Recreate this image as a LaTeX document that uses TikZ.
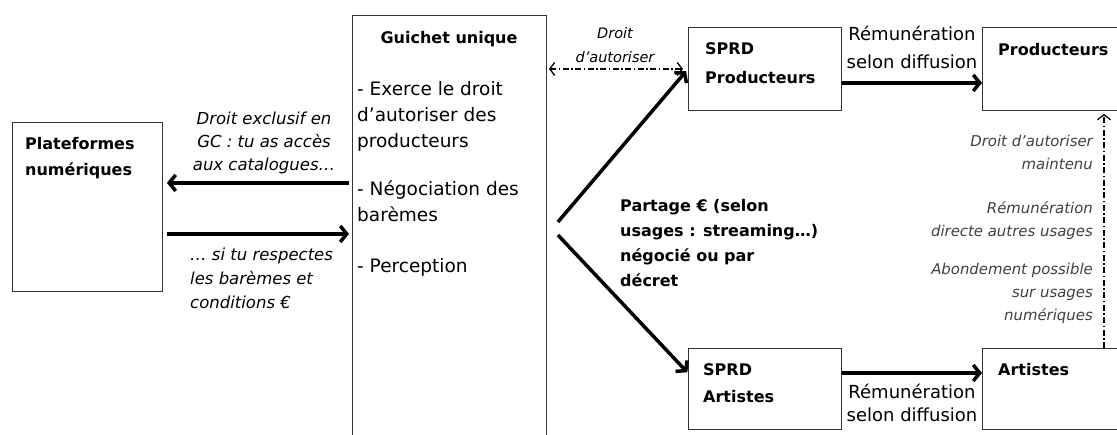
\documentclass[tikz,border=0pt]{standalone}
\usepackage{fontspec}
\setmainfont{DejaVu Sans}
\usetikzlibrary{arrows.meta, calc}

\tikzset{
	box/.style = {draw = black!80, line width = 0.9pt, anchor = north west, inner sep = 0pt},
	head/.style = {inner sep = 0pt, align = left, font = \fontsize{16}{27}\selectfont\bfseries},
	body/.style = {inner sep = 0pt, align = left, font = \fontsize{18.5}{26}\selectfont},
	note/.style = {inner sep = 0pt, font = \fontsize{16.5}{23}\selectfont\itshape},
	side/.style = {inner sep = 0pt, align = right, text = black!75, font = \fontsize{14.9}{23}\selectfont\itshape},
	fat/.style = {line width = 3.5pt, -{Straight Barb[length = 6.5pt, width = 16pt]}},
	dashdot/.style = {line width = 1.3pt, dash pattern = on 6pt off 2.5pt on 1.5pt off 2.5pt},
	barb/.tip = {Straight Barb[length = 5pt, width = 13pt]}
}

\begin{document}
\begin{tikzpicture}[x = 1pt, y = -1pt]
			\clip (0,0) rectangle (1117,434);

			% boxes
			\begin{scope}
				\node[box, minimum width = 150pt, minimum height = 169pt] (plat) at (12,122) {};
				\node[box, minimum width = 194pt, minimum height = 450pt] (guichet) at (352,15) {};
				\node[box, minimum width = 153pt, minimum height = 83pt] (sprdP) at (688,27) {};
				\node[box, minimum width = 150pt, minimum height = 83pt] (prod) at (982,27) {};
				\node[box, minimum width = 153pt, minimum height = 81pt] (sprdA) at (688,348) {};
				\node[box, minimum width = 150pt, minimum height = 81pt] (art) at (982,348) {};
			\end{scope}

			% texts in the boxes
			\node[head, anchor = north west, font = \fontsize{16}{26}\selectfont\bfseries] (platText) at (25,137) {Plateformes\\numériques};
			\node[head, anchor = north] (guichetTitle) at (449,31) {Guichet unique};
			\node[body, anchor = north west] (guichetText) at (357,81) {- Exerce le droit\\d’autoriser des\\producteurs\\[22pt]- Négociation des\\barèmes\\[25pt]- Perception};
			\node[head, anchor = north west, font = \fontsize{16}{29}\selectfont\bfseries] (sprdPText) at (705,42) {SPRD\\Producteurs};
			\node[head, anchor = north west] (prodText) at (998,43) {Producteurs};
			\node[head, anchor = north west] (sprdAText) at (703,363) {SPRD\\Artistes};
			\node[head, anchor = north west] (artText) at (998,363) {Artistes};

			% labels
			\node[head, anchor = north west, font = \fontsize{16}{25}\selectfont\bfseries] (partage) at (620,199) {Partage € (selon\\usages : streaming…)\\négocié ou par\\décret};
			\node[note, align = center, anchor = north] (accesNote) at (264,112) {Droit exclusif en\\GC : tu as accès\\aux catalogues…};
			\node[note, align = left, anchor = north west, font = \fontsize{16.5}{24}\selectfont\itshape] (baremeNote) at (190,248) {… si tu respectes\\les barèmes et\\conditions €};
			\node[note, align = center, anchor = north, font = \fontsize{14.5}{24}\selectfont\itshape] (autoNote) at (615,27) {Droit\\d’autoriser};
			\node[body, align = center, anchor = north, font = \fontsize{18}{28}\selectfont] (remuTop) at (912,26) {Rémunération\\selon diffusion};
			\node[body, align = center, anchor = north, font = \fontsize{18}{23}\selectfont] (remuBot) at (912,384) {Rémunération\\selon diffusion};
			\node[side, anchor = north east] (sideNote) at (1093,135) {Droit d’autoriser\\maintenu\\[21pt]Rémunération\\directe autres usages\\[15pt]Abondement possible\\sur usages\\numériques};

			% flows
			\begin{scope}[fat]
				\draw[shorten <= 3pt, shorten >= 4pt] ([yshift = 24pt]plat.east -| guichet.west) -- ([yshift = 24pt]plat.east);
				\draw[shorten <= 4pt, shorten >= 3pt] ([yshift = -27pt]plat.east) -- ([yshift = -27pt]plat.east -| guichet.west);
				\draw[shorten >= 3pt] ($(guichet.north east)+(11,207)$) -- (sprdP.west);
				\draw[shorten >= 1pt] ($(guichet.north east)+(11,220)$) -- ($(sprdA.north west)+(0,25)$);
				\draw ([yshift = -14pt]sprdP.east) -- ([yshift = -14pt]sprdP.east -| prod.west);
				\draw ([yshift = 16pt]sprdA.east) -- ([yshift = 16pt]sprdA.east -| art.west);
			\end{scope}

			\draw[dashdot, barb-barb, shorten <= 2pt, shorten >= 5pt] (sprdP.west -| guichet.east) -- (sprdP.west);
			\draw[dashdot, -barb, shorten >= 3pt] ($(art.north west)+(122,0)$) -- ($(prod.south west)+(122,0)$);
		\end{tikzpicture}
\end{document}
